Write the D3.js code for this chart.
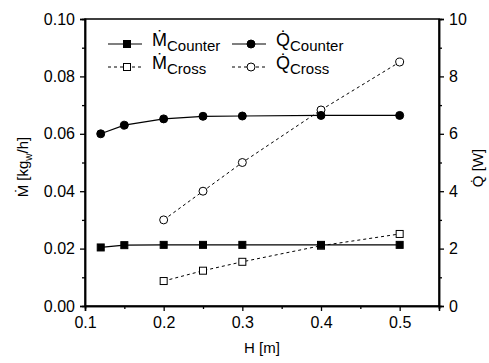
<!DOCTYPE html>
<html>
<head>
  <meta charset="utf-8" />
  <title>M and Q vs H</title>
  <script src="https://cdnjs.cloudflare.com/ajax/libs/d3/7.8.5/d3.min.js"></script>
  <style>
    body { margin: 0; background: #fff; }
    svg text { font-family: "Liberation Sans", Arial, sans-serif; fill: #000; }
  </style>
</head>
<body>
<div id="chart"></div>
<script>
  // data
  var hCounter = [0.12, 0.15, 0.2, 0.25, 0.3, 0.4, 0.5];
  var mCounter = [0.0204, 0.0212, 0.0213, 0.0213, 0.0213, 0.0213, 0.0213];
  var qCounter = [6.0, 6.3, 6.52, 6.61, 6.62, 6.64, 6.64];

  var hCross = [0.2, 0.25, 0.3, 0.4, 0.5];
  var mCross = [0.0087, 0.0123, 0.0154, 0.0210, 0.0251];
  var qCross = [3.0, 4.0, 5.0, 6.83, 8.5];

  var xTicks = [0.1, 0.2, 0.3, 0.4, 0.5];
  var yLeftTicks = [0, 0.02, 0.04, 0.06, 0.08, 0.10];
  var yRightTicks = [0, 2, 4, 6, 8, 10];

  var width = 489, height = 363;
  var pLeft = 85, pRight = 439, pTop = 19, pBottom = 306;

  var svg = d3.select("#chart").append("svg")
    .attr("width", width)
    .attr("height", height);

  var x = d3.scaleLinear().domain([0.1, 0.55]).range([pLeft, pRight]);
  var yL = d3.scaleLinear().domain([0, 0.10]).range([pBottom, pTop]);
  var yR = d3.scaleLinear().domain([0, 10]).range([pBottom, pTop]);

  // frame
  svg.append("rect")
    .attr("x", pLeft).attr("y", pTop)
    .attr("width", pRight - pLeft).attr("height", pBottom - pTop)
    .attr("fill", "none").attr("stroke", "#000").attr("stroke-width", 1.5);

  // axes
  svg.append("g").attr("transform", "translate(0," + pBottom + ")")
    .call(d3.axisBottom(x).tickValues(xTicks).tickFormat(d3.format(".1f")).tickSize(5).tickPadding(6));
  svg.append("g").attr("transform", "translate(0," + pBottom + ")")
    .call(d3.axisBottom(x).tickValues([0.15, 0.25, 0.35, 0.45, 0.55]).tickFormat("").tickSize(3));

  svg.append("g").attr("transform", "translate(" + pLeft + ",0)")
    .call(d3.axisLeft(yL).tickValues(yLeftTicks).tickFormat(d3.format(".2f")).tickSize(5).tickPadding(5));
  svg.append("g").attr("transform", "translate(" + pLeft + ",0)")
    .call(d3.axisLeft(yL).tickValues([0.01, 0.03, 0.05, 0.07, 0.09]).tickFormat("").tickSize(3));

  svg.append("g").attr("transform", "translate(" + pRight + ",0)")
    .call(d3.axisRight(yR).tickValues(yRightTicks).tickFormat(d3.format("d")).tickSize(5).tickPadding(5));
  svg.append("g").attr("transform", "translate(" + pRight + ",0)")
    .call(d3.axisRight(yR).tickValues([1, 3, 5, 7, 9]).tickFormat("").tickSize(3));

  svg.selectAll(".domain").attr("stroke-width", 1.5);
  svg.selectAll(".tick line").attr("stroke-width", 1.3);
  svg.selectAll(".tick text").style("font-size", "16px")
    .style("font-family", "'Liberation Sans', Arial, sans-serif");

  // axis titles
  svg.append("text")
    .attr("x", 262).attr("y", 353)
    .attr("text-anchor", "middle").style("font-size", "15px")
    .text("H [m]");

  var yl = svg.append("text")
    .attr("transform", "translate(28,167) rotate(-90)")
    .attr("text-anchor", "middle").style("font-size", "15px");
  yl.append("tspan").text("\u1E40 [kg");
  yl.append("tspan").attr("dy", 4).style("font-size", "10px").text("w");
  yl.append("tspan").attr("dy", -4).text("/h]");

  svg.append("text")
    .attr("transform", "translate(483,168) rotate(-90)")
    .attr("text-anchor", "middle").style("font-size", "15px")
    .text("Q\u0307 [W]");

  // series
  var line = d3.line().x(function(d) { return d[0]; }).y(function(d) { return d[1]; });

  function drawMarkers(pts, marker, filled) {
    if (marker === "square") {
      svg.append("g").selectAll("rect").data(pts).enter().append("rect")
        .attr("x", function(d) { return d[0] - 3.5; })
        .attr("y", function(d) { return d[1] - 3.5; })
        .attr("width", 7).attr("height", 7)
        .attr("fill", filled ? "#000" : "#fff")
        .attr("stroke", "#000").attr("stroke-width", 1);
    } else {
      svg.append("g").selectAll("circle").data(pts).enter().append("circle")
        .attr("cx", function(d) { return d[0]; })
        .attr("cy", function(d) { return d[1]; })
        .attr("r", 4)
        .attr("fill", filled ? "#000" : "#fff")
        .attr("stroke", "#000").attr("stroke-width", 1);
    }
  }

  function drawSeries(hs, vals, yScale, dashed, marker, filled) {
    var pts = hs.map(function(h, i) { return [x(h), yScale(vals[i])]; });
    svg.append("path")
      .datum(pts)
      .attr("d", line)
      .attr("fill", "none")
      .attr("stroke", "#000")
      .attr("stroke-width", dashed ? 1 : 1.2)
      .attr("stroke-dasharray", dashed ? "3,3" : null);
    drawMarkers(pts, marker, filled);
  }

  drawSeries(hCross, mCross, yL, true, "square", false);
  drawSeries(hCross, qCross, yR, true, "circle", false);
  drawSeries(hCounter, mCounter, yL, false, "square", true);
  drawSeries(hCounter, qCounter, yR, false, "circle", true);

  // legend
  var legend = [
    { x0: 108, y: 44, sym: "\u1E40", sub: "Counter", dashed: false, marker: "square", filled: true },
    { x0: 108, y: 67, sym: "\u1E40", sub: "Cross", dashed: true, marker: "square", filled: false },
    { x0: 232, y: 44, sym: "Q\u0307", sub: "Counter", dashed: false, marker: "circle", filled: true },
    { x0: 232, y: 67, sym: "Q\u0307", sub: "Cross", dashed: true, marker: "circle", filled: false }
  ];
  legend.forEach(function(l) {
    svg.append("line")
      .attr("x1", l.x0).attr("x2", l.x0 + 34)
      .attr("y1", l.y).attr("y2", l.y)
      .attr("stroke", "#000")
      .attr("stroke-width", l.dashed ? 1 : 1.2)
      .attr("stroke-dasharray", l.dashed ? "3,3" : null);
    drawMarkers([[l.x0 + 19, l.y]], l.marker, l.filled);
    var t = svg.append("text")
      .attr("x", l.x0 + 44).attr("y", l.y + 2)
      .style("font-size", "18px");
    t.append("tspan").text(l.sym);
    t.append("tspan").attr("dy", 5).style("font-size", "15px").text(l.sub);
  });
</script>
</body>
</html>
